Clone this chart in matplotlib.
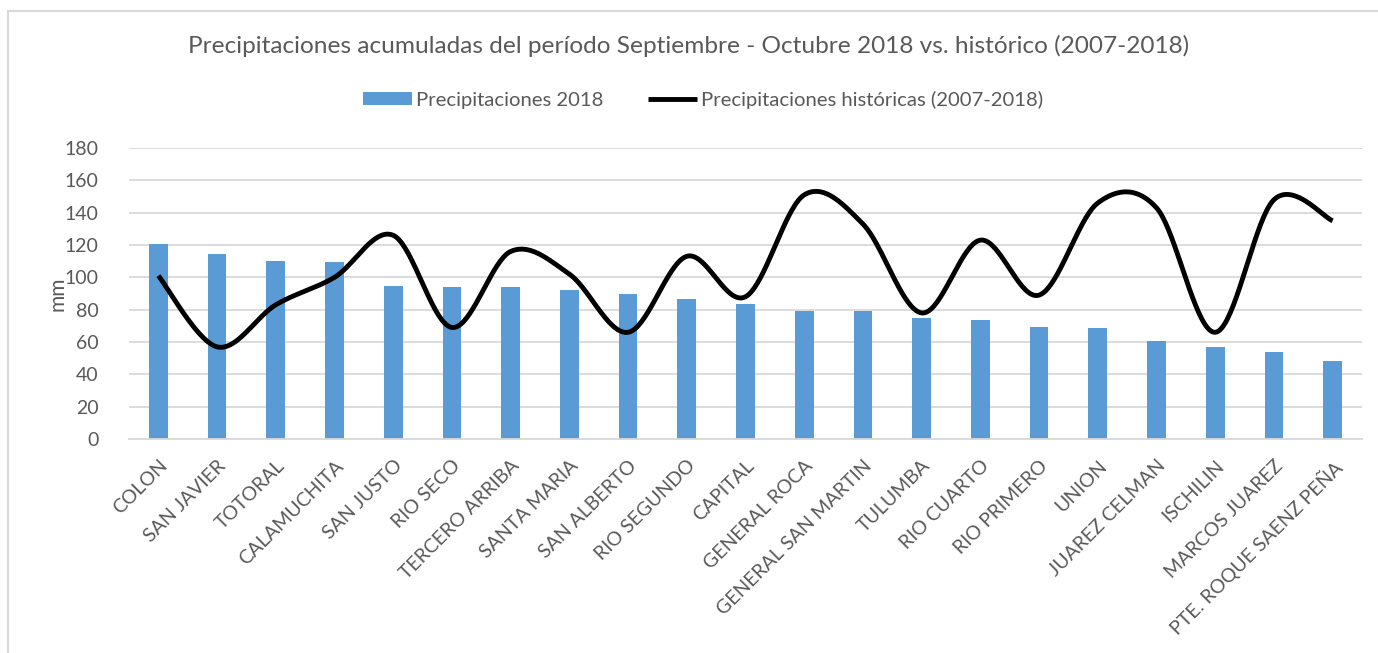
import matplotlib.pyplot as plt
import numpy as np
from matplotlib.patches import Rectangle

plt.rcParams['font.family'] = ['Lato', 'DejaVu Sans']

departamentos = ['COLON', 'SAN JAVIER', 'TOTORAL', 'CALAMUCHITA', 'SAN JUSTO', 'RIO SECO',
                 'TERCERO ARRIBA', 'SANTA MARIA', 'SAN ALBERTO', 'RIO SEGUNDO', 'CAPITAL',
                 'GENERAL ROCA', 'GENERAL SAN MARTIN', 'TULUMBA', 'RIO CUARTO', 'RIO PRIMERO',
                 'UNION', 'JUAREZ CELMAN', 'ISCHILIN', 'MARCOS JUAREZ', 'PTE. ROQUE SAENZ PEÑA']
precip_2018 = [120.7, 114.4, 110.0, 109.4, 94.9, 94.3, 94.3, 92.0, 89.8, 86.3, 83.4,
               79.1, 79.1, 74.7, 73.3, 69.5, 68.9, 60.9, 56.8, 53.9, 48.1]
precip_hist = [101, 57, 83, 100, 126, 69, 116, 102, 66, 113, 88,
               151, 133, 78, 123, 89, 146, 143, 66, 148, 135]
y_ticks = [0, 20, 40, 60, 80, 100, 120, 140, 160, 180]

gris = '#595959'
azul = '#5B9BD5'


def suavizar(x, y, n=40):
    # curva suavizada tipo Excel (Bezier con tangentes de Catmull-Rom)
    x = np.asarray(x, float)
    y = np.asarray(y, float)
    px = np.concatenate([[x[0]], x, [x[-1]]])
    py = np.concatenate([[y[0]], y, [y[-1]]])
    xs, ys = [], []
    t = np.linspace(0, 1, n)
    for i in range(len(x) - 1):
        x0, y0 = px[i + 1], py[i + 1]
        x3, y3 = px[i + 2], py[i + 2]
        x1 = x0 + (px[i + 2] - px[i]) / 6
        y1 = y0 + (py[i + 2] - py[i]) / 6
        x2 = x3 - (px[i + 3] - px[i + 1]) / 6
        y2 = y3 - (py[i + 3] - py[i + 1]) / 6
        b = [(1 - t) ** 3, 3 * (1 - t) ** 2 * t, 3 * (1 - t) * t ** 2, t ** 3]
        xs.append(b[0] * x0 + b[1] * x1 + b[2] * x2 + b[3] * x3)
        ys.append(b[0] * y0 + b[1] * y1 + b[2] * y2 + b[3] * y3)
    return np.concatenate(xs), np.concatenate(ys)


fig = plt.figure(figsize=(13.78, 6.53), dpi=100)
fig.patches.append(Rectangle((8 / 1378, -0.1), 1.1, 1.1 - 11 / 653, transform=fig.transFigure,
                             fill=False, edgecolor='#D9D9D9', linewidth=1.5))
ax = fig.add_axes([129 / 1378, 1 - 439 / 653, (1362 - 129) / 1378, (439 - 148) / 653])

pos = np.arange(len(departamentos))
barras = ax.bar(pos, precip_2018, width=0.32, color=azul, label='Precipitaciones 2018', zorder=2)
xs, ys = suavizar(pos, precip_hist)
linea, = ax.plot(xs, ys, color='black', linewidth=3.5, solid_capstyle='butt',
                 label='Precipitaciones históricas (2007-2018)', zorder=3)

ax.set_xlim(-0.5, len(departamentos) - 0.5)
ax.set_ylim(0, 180)
ax.set_yticks(y_ticks)
ax.yaxis.grid(True, color='#D9D9D9', linewidth=1.3)
ax.set_axisbelow(True)
for s in ['top', 'right', 'left']:
    ax.spines[s].set_visible(False)
ax.spines['bottom'].set_color('#D9D9D9')
ax.spines['bottom'].set_linewidth(1.3)
ax.tick_params(axis='both', length=0, colors=gris, labelsize=14)
ax.tick_params(axis='y', pad=22)
ax.set_xticks(pos)
ax.set_xticklabels(departamentos, rotation=45, ha='right', va='top', rotation_mode='anchor')
ax.tick_params(axis='x', pad=13)
ax.set_ylabel('mm', color=gris, fontsize=15, labelpad=-2)

fig.text(0.5, 1 - 46 / 653, 'Precipitaciones acumuladas del período Septiembre - Octubre 2018 vs. histórico (2007-2018)',
         ha='center', va='center', color=gris, fontsize=17.6)
fig.legend([barras, linea], ['Precipitaciones 2018', 'Precipitaciones históricas (2007-2018)'],
           loc='center', bbox_to_anchor=(703 / 1378, 1 - 100 / 653), ncol=2, frameon=False,
           fontsize=14.6, labelcolor=gris, handlelength=2.4, handleheight=0.6,
           columnspacing=2.2, handletextpad=0.2)

fig.savefig('out.png', dpi=100)
